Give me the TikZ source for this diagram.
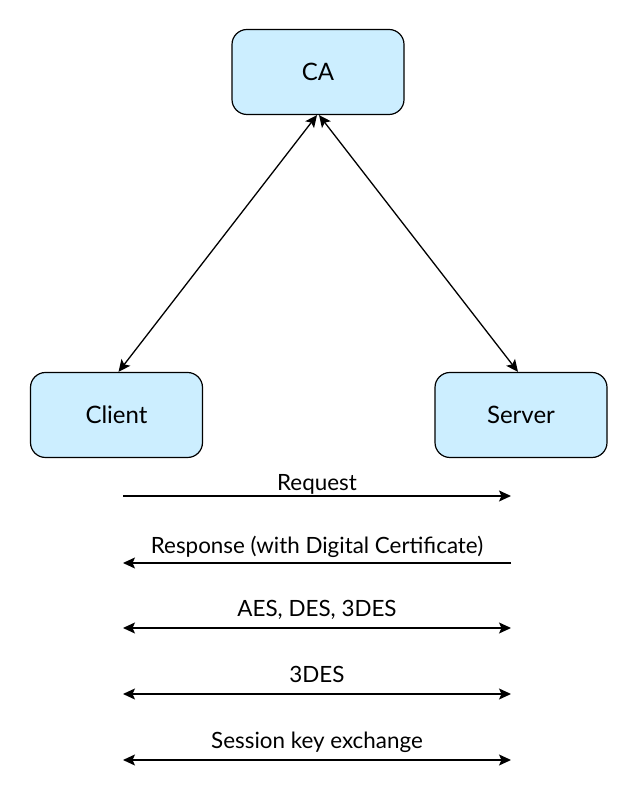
\documentclass[tikz,border=0pt]{standalone}
\usepackage{fontspec}
\setmainfont{Lato}
\usetikzlibrary{arrows.meta}
\definecolor{boxfill}{RGB}{204,238,255}
\tikzset{
  tip/.tip={Stealth[length=12pt,width=11pt,inset=2.5pt]},
  entity/.style={draw=black, line width=1.2pt, fill=boxfill, rounded corners=15pt,
    minimum width=172pt, minimum height=85pt, inner sep=0pt, font=\fontsize{24}{28}\selectfont},
  conn/.style={line width=1.3pt, -tip},
  biconn/.style={line width=1.3pt, tip-tip},
  msg/.style={font=\fontsize{22.4}{26}\selectfont, inner sep=0pt, anchor=base}
}
\begin{document}
\begin{tikzpicture}[x=1pt,y=1pt]
\useasboundingbox (0,0) rectangle (634,794);
\node[entity] (ca) at (318,722) {CA};
\node[entity] (client) at (116.5,379) {Client};
\node[entity] (server) at (521,379) {Server};
\draw[biconn] ([xshift=-1pt]ca.south) -- ([xshift=2pt]client.north);
\draw[biconn] ([xshift=1pt]ca.south) -- ([xshift=-3pt]server.north);
\coordinate (l1) at (123,298); \coordinate (r1) at (511,298);
\coordinate (l2) at (123,231); \coordinate (r2) at (511,231);
\coordinate (l3) at (123,166); \coordinate (r3) at (511,166);
\coordinate (l4) at (123,100); \coordinate (r4) at (511,100);
\coordinate (l5) at (123,34);  \coordinate (r5) at (511,34);
\draw[conn] (l1) -- node[msg, yshift=5pt] (t1) {Request} (r1);
\draw[conn] (r2) -- node[msg, yshift=9pt] (t2) {Response (with Digital Certificate)} (l2);
\draw[biconn] (l3) -- node[msg, yshift=11pt] (t3) {AES, DES, 3DES} (r3);
\draw[biconn] (l4) -- node[msg, yshift=11pt] (t4) {3DES} (r4);
\draw[biconn] (l5) -- node[msg, yshift=11pt] (t5) {Session key exchange} (r5);
\end{tikzpicture}
\end{document}
